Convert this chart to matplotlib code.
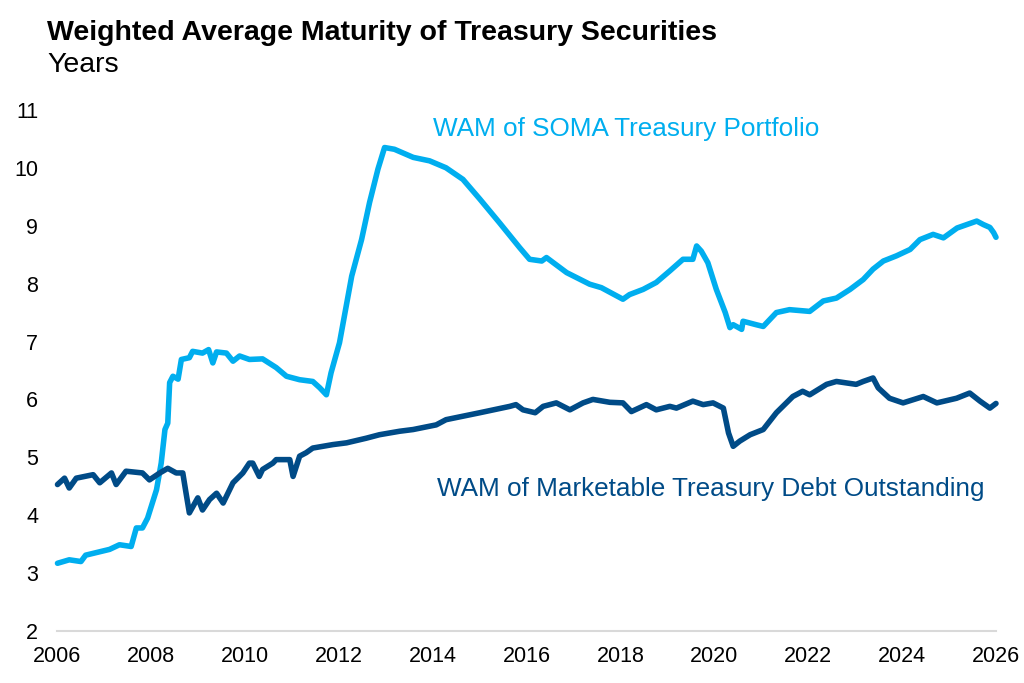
import matplotlib
matplotlib.use("Agg")
import matplotlib.pyplot as plt

plt.rcParams['font.family'] = ['Liberation Sans', 'DejaVu Sans']

# WAM of SOMA Treasury Portfolio (years)
soma_x = [2006.0, 2006.25, 2006.5, 2006.6, 2007.11, 2007.32, 2007.57, 2007.68, 2007.81, 2007.92,
          2008.11, 2008.21, 2008.29, 2008.35, 2008.39, 2008.46, 2008.57, 2008.64, 2008.81, 2008.88,
          2009.09, 2009.22, 2009.31, 2009.39, 2009.6, 2009.74, 2009.88, 2010.09, 2010.37, 2010.66,
          2010.88, 2011.16, 2011.44, 2011.59, 2011.73, 2011.83, 2012.01, 2012.27, 2012.48, 2012.65,
          2012.83, 2012.97, 2013.18, 2013.58, 2013.93, 2014.28, 2014.64, 2015.0, 2015.42, 2015.85,
          2016.06, 2016.32, 2016.42, 2016.85, 2017.34, 2017.59, 2018.05, 2018.19, 2018.48, 2018.76,
          2019.05, 2019.33, 2019.54, 2019.62, 2019.72, 2019.86, 2020.04, 2020.23, 2020.33, 2020.4,
          2020.58, 2020.61, 2020.89, 2021.04, 2021.32, 2021.6, 2022.03, 2022.32, 2022.6, 2022.89,
          2023.17, 2023.38, 2023.6, 2023.88, 2024.17, 2024.38, 2024.66, 2024.88, 2025.17, 2025.59,
          2025.73, 2025.87, 2025.95, 2026.0]
soma_y = [3.17, 3.23, 3.20, 3.31, 3.41, 3.49, 3.46, 3.78, 3.78, 3.95,
          4.44, 4.90, 5.48, 5.59, 6.29, 6.40, 6.35, 6.69, 6.72, 6.83,
          6.80, 6.86, 6.63, 6.82, 6.80, 6.66, 6.75, 6.69, 6.70, 6.55,
          6.40, 6.34, 6.31, 6.20, 6.08, 6.46, 6.98, 8.13, 8.76, 9.40,
          9.98, 10.35, 10.32, 10.18, 10.12, 10.00, 9.80, 9.46, 9.05, 8.62,
          8.42, 8.39, 8.45, 8.19, 7.99, 7.93, 7.73, 7.81, 7.90, 8.02,
          8.22, 8.42, 8.42, 8.65, 8.56, 8.36, 7.90, 7.50, 7.24, 7.29,
          7.21, 7.35, 7.29, 7.26, 7.50, 7.55, 7.52, 7.70, 7.75, 7.90,
          8.07, 8.25, 8.39, 8.48, 8.59, 8.76, 8.85, 8.79, 8.96, 9.08,
          9.02, 8.97, 8.88, 8.80]

# WAM of Marketable Treasury Debt Outstanding (years)
debt_x = [2006.0, 2006.15, 2006.25, 2006.4, 2006.76, 2006.9, 2007.15, 2007.25, 2007.46, 2007.81,
          2007.96, 2008.18, 2008.35, 2008.53, 2008.67, 2008.74, 2008.81, 2008.99, 2009.09, 2009.24,
          2009.39, 2009.53, 2009.74, 2009.95, 2010.09, 2010.16, 2010.3, 2010.37, 2010.59, 2010.66,
          2010.95, 2011.02, 2011.16, 2011.3, 2011.44, 2011.87, 2012.16, 2012.58, 2012.86, 2013.29,
          2013.58, 2014.07, 2014.28, 2015.0, 2015.64, 2015.77, 2015.92, 2016.18, 2016.35, 2016.63,
          2016.92, 2017.2, 2017.41, 2017.77, 2018.05, 2018.23, 2018.55, 2018.76, 2019.05, 2019.19,
          2019.54, 2019.76, 2019.97, 2020.19, 2020.3, 2020.4, 2020.54, 2020.76, 2021.04, 2021.32,
          2021.67, 2021.88, 2022.03, 2022.39, 2022.6, 2023.02, 2023.17, 2023.38, 2023.49, 2023.73,
          2024.02, 2024.45, 2024.74, 2025.16, 2025.44, 2025.66, 2025.87, 2026.0]
debt_y = [4.53, 4.64, 4.47, 4.64, 4.70, 4.56, 4.73, 4.53, 4.76, 4.73,
          4.61, 4.73, 4.81, 4.73, 4.73, 4.38, 4.04, 4.30, 4.09, 4.27,
          4.38, 4.21, 4.56, 4.73, 4.90, 4.90, 4.67, 4.79, 4.90, 4.96,
          4.96, 4.67, 5.02, 5.08, 5.16, 5.22, 5.25, 5.33, 5.39, 5.45,
          5.48, 5.56, 5.65, 5.77, 5.88, 5.91, 5.82, 5.77, 5.88, 5.94,
          5.82, 5.94, 6.00, 5.95, 5.94, 5.79, 5.91, 5.82, 5.88, 5.85,
          5.97, 5.91, 5.94, 5.85, 5.42, 5.19, 5.28, 5.39, 5.48, 5.77,
          6.05, 6.14, 6.08, 6.26, 6.31, 6.26, 6.31, 6.37, 6.20, 6.02,
          5.94, 6.05, 5.94, 6.02, 6.11, 5.97, 5.85, 5.93]

x_ticks = [2006, 2008, 2010, 2012, 2014, 2016, 2018, 2020, 2022, 2024, 2026]
y_ticks = [2, 3, 4, 5, 6, 7, 8, 9, 10, 11]

light = '#00AEEF'
dark = '#004B87'

fig = plt.figure(figsize=(10.24, 6.83), dpi=100)
ax = fig.add_axes([0.05615, 0.0761, 0.9165, 0.763])

ax.plot(soma_x, soma_y, color=light, lw=4, solid_joinstyle='round', solid_capstyle='round',
        clip_on=False)
ax.plot(debt_x, debt_y, color=dark, lw=4, solid_joinstyle='round', solid_capstyle='round',
        clip_on=False)

ax.set_xlim(2006, 2026)
ax.set_ylim(2, 11)
ax.set_xticks(x_ticks)
ax.set_xticklabels([str(t) for t in x_ticks])
ax.set_yticks(y_ticks)
ax.set_yticklabels([str(t) for t in y_ticks])
ax.tick_params(axis='both', length=0, labelsize=15.5, colors='#000000')
ax.tick_params(axis='y', pad=14)
ax.tick_params(axis='x', pad=10.5)

for s in ['top', 'right', 'left']:
    ax.spines[s].set_visible(False)
ax.spines['bottom'].set_color('#D9D9D9')
ax.spines['bottom'].set_linewidth(1.5)
ax.spines['bottom'].set_zorder(0)

ax.text(2018.12, 10.67, 'WAM of SOMA Treasury Portfolio', color=light, fontsize=18.8,
        ha='center', va='center')
ax.text(2019.93, 4.46, 'WAM of Marketable Treasury Debt Outstanding', color=dark, fontsize=18.8,
        ha='center', va='center')

fig.text(0.046, 0.9414, 'Weighted Average Maturity of Treasury Securities', fontsize=20.5,
         fontweight='bold', ha='left', va='baseline')
fig.text(0.046, 0.895, 'Years', fontsize=20.5, ha='left', va='baseline')

fig.savefig('out.png', dpi=100)
